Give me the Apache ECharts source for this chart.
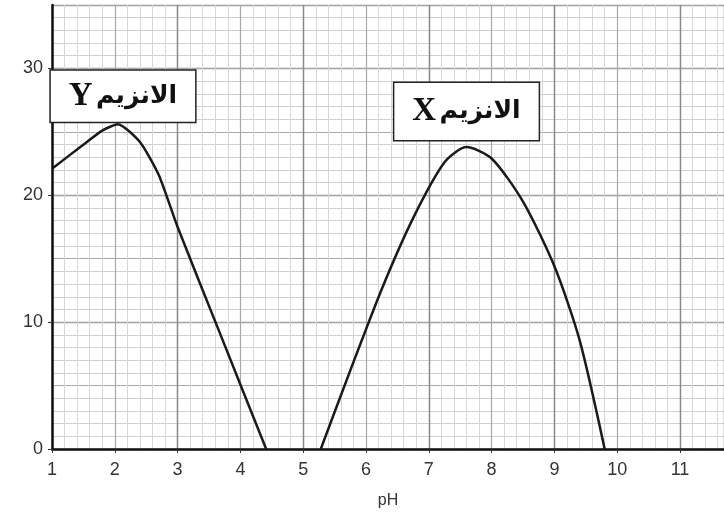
<!DOCTYPE html>
<html>
<head>
<meta charset="utf-8">
<script src="https://cdn.jsdelivr.net/npm/echarts@6/dist/echarts.min.js"></script>
<style>
  html, body { margin: 0; padding: 0; background: #fff; }
  #main { width: 724px; height: 519px; }
</style>
</head>
<body>
<div id="main"></div>
<script>
// enzyme Y curve (pH, rate)
const enzymeYPh = [1, 1.45, 1.8, 2.05, 2.4, 2.7, 3, 3.7, 4.41];
const enzymeYRate = [22.1, 23.8, 25.1, 25.6, 24.2, 21.6, 17.5, 8.8, 0];

// enzyme X curve (pH, rate)
const enzymeXPh = [5.28, 5.75, 6.25, 6.75, 7.25, 7.6, 8, 8.5, 9, 9.4, 9.8];
const enzymeXRate = [0, 6.2, 12.6, 18.2, 22.6, 23.8, 22.9, 19.5, 14.4, 8.6, 0];

// label anchors (pH, rate)
const labelY = [2.13, 27.8];
const labelX = [7.6, 26.6];

const zip = (a, b) => a.map((v, i) => [v, b[i]]);

function boxLabel(letter, padV) {
  return {
    show: true,
    position: 'inside',
    formatter: '{l|' + letter + '} {a|الانزيم}',
    backgroundColor: '#fff',
    borderColor: '#222',
    borderWidth: 1.5,
    padding: [padV, 18, padV, 18],
    rich: {
      l: { fontFamily: 'Liberation Serif', fontWeight: 'bold', fontSize: 33, color: '#111' },
      a: { fontFamily: 'DejaVu Sans', fontWeight: 'bold', fontSize: 25, color: '#111' }
    }
  };
}

let myChart = echarts.init(document.getElementById('main'));
myChart.setOption({
  animation: false,
  backgroundColor: '#fff',
  grid: { left: 52, right: 0, top: 5, bottom: 70 },
  xAxis: [
    {
      type: 'value', min: 1, max: 11.7, interval: 1,
      name: 'pH', nameLocation: 'middle', nameGap: 44,
      nameTextStyle: { fontFamily: 'Liberation Sans', fontSize: 16, color: '#333' },
      axisLine: { lineStyle: { color: '#111', width: 2.5 } },
      axisTick: { show: true, length: 4, lineStyle: { color: '#333' } },
      axisLabel: {
        fontFamily: 'Liberation Sans', fontSize: 18, color: '#333', margin: 12,
        showMaxLabel: false
      },
      splitLine: { show: true, lineStyle: { color: '#a8a8a8', width: 1.2 } },
      minorTick: { show: false, splitNumber: 5 },
      minorSplitLine: { show: true, lineStyle: { color: '#d6d6d6', width: 1 } }
    },
    {
      type: 'value', min: 1, max: 11.7, interval: 2, position: 'top',
      axisLine: { show: false }, axisTick: { show: false }, axisLabel: { show: false },
      splitLine: { show: true, lineStyle: { color: '#8a8a8a', width: 1.4 } }
    }
  ],
  yAxis: [
    {
      type: 'value', min: 0, max: 35, interval: 10,
      axisLine: { show: true, lineStyle: { color: '#111', width: 2.5 } },
      axisTick: { show: true, length: 4, lineStyle: { color: '#333' } },
      axisLabel: {
        fontFamily: 'Liberation Sans', fontSize: 18, color: '#333', margin: 9,
        showMaxLabel: false
      },
      splitLine: { show: true, lineStyle: { color: '#8a8a8a', width: 1.4 } },
      minorTick: { show: false, splitNumber: 10 },
      minorSplitLine: { show: true, lineStyle: { color: '#d0d0d0', width: 1 } }
    },
    {
      type: 'value', min: 0, max: 35, interval: 5, position: 'right',
      axisLine: { show: false }, axisTick: { show: false }, axisLabel: { show: false },
      splitLine: { show: true, lineStyle: { color: '#a8a8a8', width: 1.2 } }
    }
  ],
  series: [
    {
      name: 'Y', type: 'line', smooth: 0.2, symbol: 'none',
      lineStyle: { color: '#1a1a1a', width: 2.5 },
      data: zip(enzymeYPh, enzymeYRate),
      markPoint: {
        symbol: 'rect', symbolSize: 0,
        label: boxLabel('Y', 9),
        data: [{ coord: labelY }]
      }
    },
    {
      name: 'X', type: 'line', smooth: 0.25, symbol: 'none',
      lineStyle: { color: '#1a1a1a', width: 2.5 },
      data: zip(enzymeXPh, enzymeXRate),
      markPoint: {
        symbol: 'rect', symbolSize: 0,
        label: boxLabel('X', 12),
        data: [{ coord: labelX }]
      }
    }
  ]
});
</script>
</body>
</html>
